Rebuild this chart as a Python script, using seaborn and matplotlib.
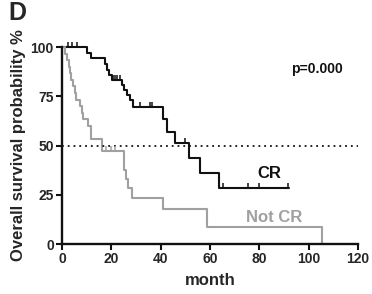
import numpy as np
import pandas as pd
import matplotlib
matplotlib.use('Agg')
import matplotlib.pyplot as plt
import seaborn as sns

# step points (month, survival %)
cr_time = [0, 10.0, 11.9, 17.5, 18.3, 19.0, 20.1, 24.2, 25.1, 26.2, 27.6, 28.9,
           41.1, 42.4, 45.8, 51.6, 55.9, 63.8, 92.0]
cr_surv = [100, 97.1, 94.2, 91.3, 88.4, 85.8, 83.4, 80.7, 78.2, 75.6, 72.9, 69.7,
           63.4, 57.1, 51.4, 43.5, 36.2, 28.6, 28.6]
cr_censor = [2.4, 4.0, 6.0, 20.6, 21.5, 22.4, 23.3, 31.6, 35.7, 36.4, 49.9,
             65.4, 75.5, 79.9, 91.7]

notcr_time = [0, 1.2, 2.1, 2.6, 3.1, 3.8, 4.5, 5.2, 5.8, 7.2, 8.0, 8.5, 10.5,
              11.9, 16.0, 25.0, 26.0, 26.9, 28.2, 41.0, 58.7, 105.5]
notcr_surv = [100, 96.7, 93.3, 90.0, 86.7, 83.3, 80.0, 76.7, 73.3, 70.0, 66.7,
              63.3, 60.0, 53.3, 47.0, 37.6, 32.9, 28.2, 23.5, 17.6, 8.8, 0]
notcr_censor = [17.8, 19.7, 21.4]

x_ticks = [0, 20, 40, 60, 80, 100, 120]
y_ticks = [0, 25, 50, 75, 100]

black = '#111111'
grey = '#a0a0a0'

sns.set_style('ticks')
plt.rcParams['font.family'] = ['Liberation Sans', 'DejaVu Sans']
plt.rcParams['font.weight'] = 'bold'

fig = plt.figure(figsize=(3.72, 2.94), dpi=100)
ax = fig.add_axes([0.167, 0.170, 0.795, 0.670])


def surv_at(times, survs, t):
    i = np.searchsorted(times, t, side='right') - 1
    return survs[i]


for times, survs, cens, col in [(cr_time, cr_surv, cr_censor, black),
                                (notcr_time, notcr_surv, notcr_censor, grey)]:
    df = pd.DataFrame({'month': times, 'surv': survs})
    sns.lineplot(data=df, x='month', y='surv', drawstyle='steps-post',
                 estimator=None, color=col, lw=1.5, ax=ax, clip_on=False)
    cdf = pd.DataFrame({'month': cens,
                        'surv': [surv_at(times, survs, c) + 1.0 for c in cens]})
    sns.scatterplot(data=cdf, x='month', y='surv', marker='|', s=18,
                    color=col, linewidth=1.1, ax=ax, clip_on=False, zorder=3)

ax.axhline(50, color=black, ls=(0, (1, 2.2)), lw=1.3)

ax.set_xlim(0, 120)
ax.set_ylim(0, 100)
ax.set_xticks(x_ticks)
ax.set_yticks(y_ticks)
ax.tick_params(labelsize=10, width=1.5, length=4, color=black, pad=2)
for lab in ax.get_xticklabels() + ax.get_yticklabels():
    lab.set_fontweight('bold')
sns.despine(ax=ax)
for s in ['left', 'bottom']:
    ax.spines[s].set_linewidth(1.7)
    ax.spines[s].set_color(black)

ax.set_xlabel('month', fontsize=12, fontweight='bold', labelpad=5)
ax.set_ylabel('Overall survival probability %', fontsize=12,
              fontweight='bold', labelpad=3)

ax.text(84, 36, 'CR', fontsize=12, fontweight='bold', color=black,
        ha='center', va='center')
ax.text(86, 13.5, 'Not CR', fontsize=12, fontweight='bold', color=grey,
        ha='center', va='center')
ax.text(103.5, 89, 'p=0.000', fontsize=10, fontweight='bold', color=black,
        ha='center', va='center')
fig.text(0.022, 0.955, 'D', fontsize=18, fontweight='bold', ha='left', va='center')

fig.savefig('out.png', dpi=100)
